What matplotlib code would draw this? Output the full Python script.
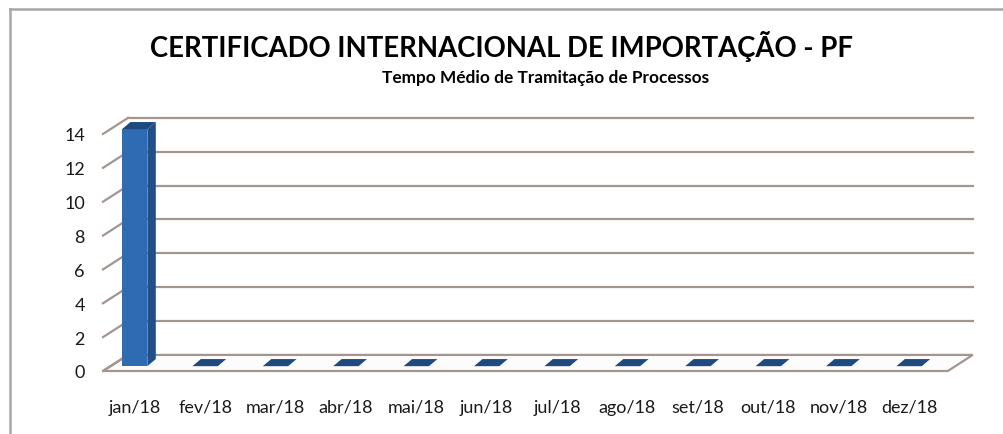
import matplotlib

matplotlib.use("Agg")
import matplotlib.pyplot as plt
from matplotlib.lines import Line2D
from matplotlib.patches import Polygon

# data
months = ["jan/18", "fev/18", "mar/18", "abr/18", "mai/18", "jun/18",
          "jul/18", "ago/18", "set/18", "out/18", "nov/18", "dez/18"]
tempo_medio = [14, 0, 0, 0, 0, 0, 0, 0, 0, 0, 0, 0]
y_ticks = [0, 2, 4, 6, 8, 10, 12, 14]

title = "CERTIFICADO INTERNACIONAL DE IMPORTAÇÃO - PF"
subtitle = "Tempo Médio de Tramitação de Processos"

plt.rcParams["font.family"] = ["Lato", "DejaVu Sans"]

W, H = 1004, 435
fig = plt.figure(figsize=(W / 100, H / 100), dpi=100)
fig.patch.set_facecolor("white")

# axes in pixel terms: front floor at y=372px, left at x=103px
ax = fig.add_axes([103 / W, 1 - 372 / H, 872 / W, 267 / H])
ax.set_xlim(-0.45, -0.45 + 872 / 70.4)
ax.set_ylim(0, 267 / 16.93)
for s in ax.spines.values():
    s.set_visible(False)
ax.set_facecolor("none")

# pseudo-3D depth (floor / wall), in data units
DX, DY = 0.355, 0.95
x_left, x_right = -0.45, len(months) - 0.45
grid_c = "#a39590"

# floor
floor = Polygon([(x_left, 0), (x_right, 0), (x_right + DX, DY), (x_left + DX, DY)],
                closed=True, facecolor="#fcfcfc", edgecolor=grid_c, lw=1.6,
                clip_on=False, zorder=1)
ax.add_patch(floor)

# back wall gridlines + side wall diagonals
for v in y_ticks:
    if v > 0:
        ax.plot([x_left + DX, x_right + DX], [v + DY, v + DY], color=grid_c,
                lw=1.6, clip_on=False, zorder=1)
    ax.plot([x_left, x_left + DX], [v, v + DY], color=grid_c, lw=1.6,
            clip_on=False, zorder=1)

# bars
bw = 0.36
oy = 0.3 * DY
ddx, ddy = 0.12, 0.42
c_front, c_side, c_top = "#2f6bb3", "#234f86", "#1f4a80"
for i, val in enumerate(tempo_medio):
    x0, x1 = i - bw / 2, i + bw / 2
    y0, y1 = oy, oy + val
    if val > 0:
        ax.add_patch(Polygon([(x0, y0), (x1, y0), (x1, y1), (x0, y1)],
                             facecolor=c_front, edgecolor="none", zorder=3))
        ax.add_patch(Polygon([(x1, y0), (x1 + ddx, y0 + ddy), (x1 + ddx, y1 + ddy), (x1, y1)],
                             facecolor=c_side, edgecolor="none", zorder=3))
    ax.add_patch(Polygon([(x0, y1), (x1, y1), (x1 + ddx, y1 + ddy), (x0 + ddx, y1 + ddy)],
                         facecolor=c_top, edgecolor="none", zorder=3))

ax.set_xticks(range(len(months)))
ax.set_xticklabels(months, fontsize=13, color="#1a1a1a")
ax.set_yticks(y_ticks)
ax.set_yticklabels([str(v) for v in y_ticks], fontsize=13, color="#1a1a1a")
ax.tick_params(axis="x", length=0, pad=20)
ax.tick_params(axis="y", length=0, pad=13)

fig.text(502 / W, 1 - 46 / H, title, ha="center", va="center",
         fontsize=19.8, fontweight="bold", color="#000000")
fig.text(546 / W, 1 - 78 / H, subtitle, ha="center", va="center",
         fontsize=12.4, fontweight="bold", color="#000000")

# chart area border (top and left visible)
bc = "#a6a6a6"
fig.add_artist(Line2D([10 / W, 1], [1 - 10 / H, 1 - 10 / H], color=bc, lw=1.8,
                      transform=fig.transFigure))
fig.add_artist(Line2D([10 / W, 10 / W], [0, 1 - 10 / H], color=bc, lw=1.8,
                      transform=fig.transFigure))

fig.savefig("out.png", dpi=100, facecolor="white")
